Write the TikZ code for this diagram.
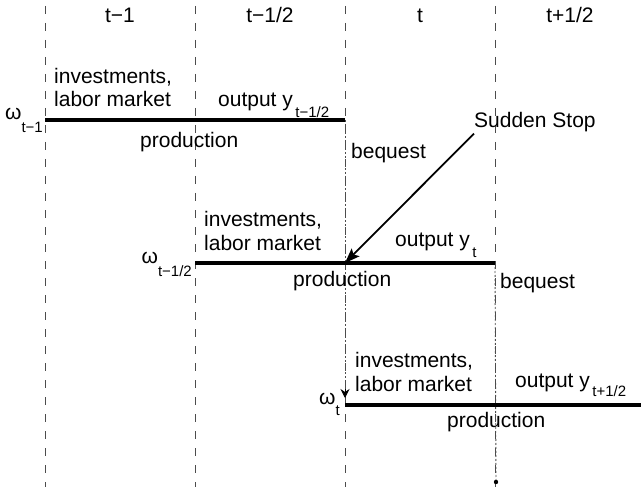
\documentclass[tikz,border=0pt]{standalone}
\usepackage{fontspec}
\setmainfont{Liberation Sans}
\usetikzlibrary{arrows.meta,calc}
\newcommand{\lowsub}[2][10pt]{\raisebox{-#1}{\fontsize{15}{15}\selectfont #2}}
\begin{document}
\begin{tikzpicture}[x=1pt,y=-1pt,
  font=\fontsize{21}{24}\selectfont,
  vline/.style={draw=black!70, line width=0.8pt, dash pattern=on 8pt off 9pt},
  period/.style={draw=black, line width=4pt},
  beq/.style={draw=black!70, line width=0.9pt, dash pattern=on 2pt off 2pt},
  lbl/.style={inner sep=0pt, anchor=base west},
  twoline/.style={inner sep=0pt, anchor=base west, align=left},
  hdr/.style={inner sep=0pt, anchor=base},
  omg/.style={inner sep=0pt, anchor=base east}
]
\useasboundingbox (0,0) rectangle (641,487);
% vertical period boundaries
\foreach \n/\x in {a/45,b/195,c/345,d/495}{
  \coordinate (\n top) at (\x,6);
  \coordinate (\n bot) at (\x,487);
  \draw[vline] (\n top) -- (\n bot);
}
% headers
\node[hdr] (h1) at (120,23) {t−1};
\node[hdr] (h2) at (270,23) {t−1/2};
\node[hdr] (h3) at (420,23) {t};
\node[hdr] (h4) at (570,23) {t+1/2};
% period lines
\coordinate (r1s) at (45,120);  \coordinate (r1e) at (345,120);
\coordinate (r2s) at (195,263); \coordinate (r2e) at (495,263);
\coordinate (r3s) at (345,405); \coordinate (r3e) at (641,405);
% bequest lines
\coordinate (b1e) at (345,398);
\coordinate (b1a) at (345,389);
\coordinate (b2e) at (496,482);
\draw[beq] (r1e) -- (b1e);
\draw[-{Stealth[length=9pt,width=9pt]}, draw=black, line width=1pt] (b1a) -- (b1e);
\draw[beq] (r2e) -- (b2e);
\fill[black] (b2e) circle (2.2pt);
\draw[period] (r1s) -- (r1e);
\draw[period] (r2s) -- (r2e);
\draw[period] (r3s) -- (r3e);
% row 1
\node[omg] (w1) at (43,120) {ω\lowsub[13pt]{t−1}};
\node[twoline] (inv1) at (54,107) {investments,\\labor market};
\node[lbl] (out1) at (218,107) {output y\lowsub[11pt]{\,t−1/2}};
\node[lbl] (prod1) at (140,147) {production};
\node[lbl] (beq1) at (351,159) {bequest};
% row 2
\node[omg] (w2) at (192,263) {ω\lowsub[13pt]{t−1/2}};
\node[twoline] (inv2) at (204,250) {investments,\\labor market};
\node[lbl] (out2) at (395,247) {output y\lowsub[11pt]{\,t}};
\node[lbl] (prod2) at (293,286) {production};
\node[lbl] (beq2) at (500,288) {bequest};
% row 3
\node[omg] (w3) at (340,404) {ω\lowsub[11pt]{t}};
\node[twoline] (inv3) at (355,391) {investments,\\labor market};
\node[lbl] (out3) at (515,387) {output y\lowsub[9pt]{\,t+1/2}};
\node[lbl] (prod3) at (447,427) {production};
% sudden stop
\node[lbl] (ss) at (474,128) {Sudden Stop};
\coordinate (hit) at (345,263);
\draw[-{Stealth[length=15pt,width=11pt,inset=3pt]}, line width=1.8pt] ($(ss.south west)+(0,1)$) -- (hit);
\end{tikzpicture}
\end{document}
